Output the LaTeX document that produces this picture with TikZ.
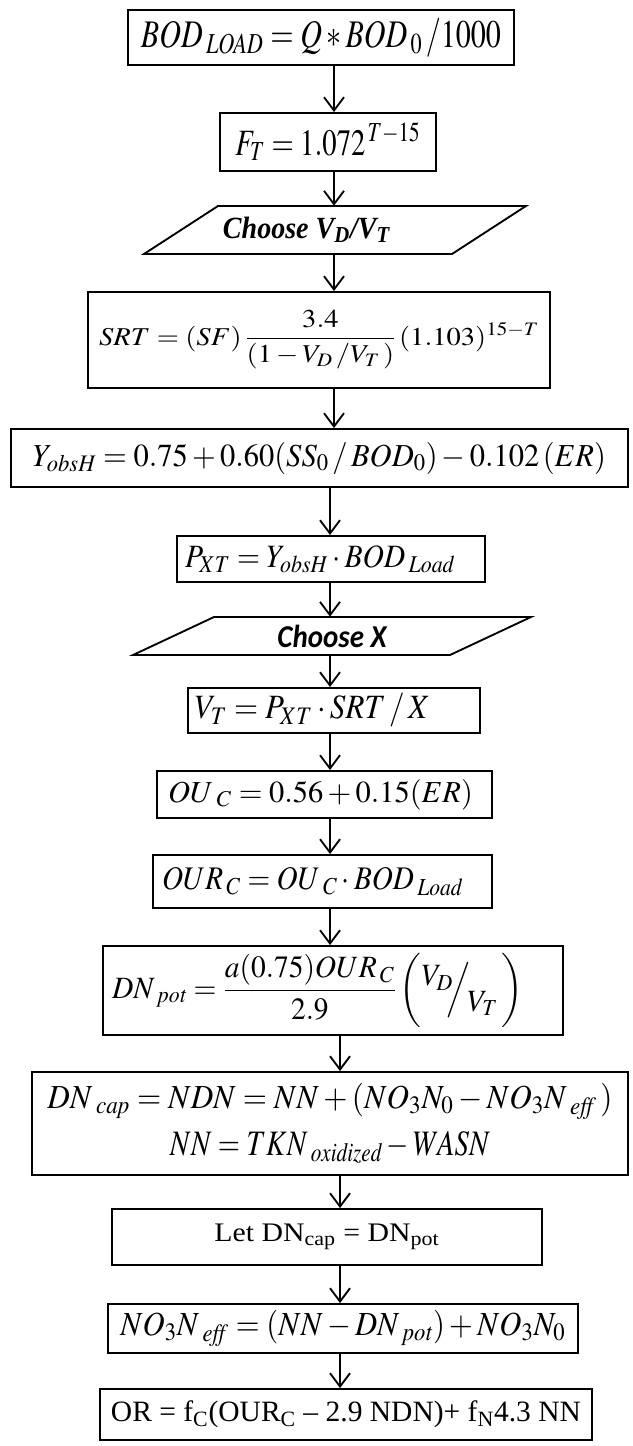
\documentclass[tikz,border=0pt]{standalone}
\usepackage{amsmath}
\usepackage{graphicx}
\usepackage{mathptmx}
\usepackage{fontspec}
\setmainfont{Liberation Serif}
\newfontfamily\calibrifont{Carlito}
\usetikzlibrary{arrows.meta, positioning, calc}

% one pixel of the drawing
\newlength{\pxlen}
\setlength{\pxlen}{0.75pt}
% set a formula to a given width (px) and stretch it upwards
\newcommand{\eqfit}[3]{\scalebox{1}[#2]{\resizebox{#1\pxlen}{!}{#3}}}

\tikzset{
  eqbox/.style 2 args={draw, line width=1.4pt, inner sep=0pt,
    minimum width=#1*0.75pt, minimum height=#2*0.75pt},
  inbox/.style={inner sep=0pt, minimum height=#1*0.75pt},
  leftbox/.style 2 args={align=left, text width=#1*0.75pt, inner xsep=#2*0.75pt},
  flow/.style={line width=1.4pt, -{Straight Barb[length=10pt, width=15pt, line width=1.4pt]}},
  para/.style={line width=1.4pt},
}

\begin{document}
\begin{tikzpicture}[x=0.75pt, y=-0.75pt, every node/.style={font=\fontsize{19}{23}\selectfont}]
  \useasboundingbox (0,0) rectangle (632,1446);

  % steps
  \node[eqbox={386}{55}] (bod) at (321,37.5)
    {\eqfit{360}{1.3}{$BOD\,{}_{\mathit{LOAD}} = Q * BOD\,{}_{0}\,/1000$}};
  \node[eqbox={216}{58}] (ft) at (328,142) {\eqfit{185}{1.3}{$F_T = 1.072^{\,T-15}$}};
  \node[inbox=48] (vd) at (306.5,230)
    {\eqfit{167}{1.1}{\rmfamily\bfseries\itshape Choose V\textsubscript{D}/V\textsubscript{T}}};
  \node[eqbox={462}{96}] (srt) at (319,340)
    {\eqfit{440}{0.9}{$SRT = (SF)\,\dfrac{3.4}{(1-V_D\,/V_T\,)}\,(1.103)^{15-T}$}};
  \node[eqbox={617}{58}] (yobs) at (319.5,458)
    {\eqfit{573}{1.05}{$Y_{\mathit{obsH}} = 0.75 + 0.60(SS_0\,/\,BOD_0) - 0.102\,(ER)$}};
  \node[eqbox={308}{46}, leftbox={292}{8}] (pxt) at (331,559)
    {\eqfit{270}{1.1}{$P_{XT} = Y_{\mathit{obsH}}\cdot BOD\,{}_{\mathit{Load}}$}};
  \node[inbox=38] (chx) at (332,636) {\eqfit{109}{1.1}{\calibrifont\bfseries\itshape Choose X}};
  \node[eqbox={292}{45}, leftbox={278}{7}] (vt) at (334,710.5)
    {\eqfit{235}{1.1}{$V_T = P_{XT}\cdot SRT\,/\,X$}};
  \node[eqbox={335}{47}, leftbox={313}{11}] (ouc) at (324.5,794.5)
    {\eqfit{305}{1.0}{$OU\,{}_{C} = 0.56 + 0.15(ER)$}};
  \node[eqbox={339}{53}, leftbox={321}{9}] (ourc) at (322.5,881.5)
    {\eqfit{301}{1.13}{$OUR\,{}_{C} = OU\,{}_{C}\cdot BOD\,{}_{\mathit{Load}}$}};
  \node[eqbox={460}{89}, leftbox={442}{9}] (dnpot) at (333,990.5)
    {\eqfit{411}{1.05}{$DN\,{}_{\mathit{pot}} = \dfrac{a(0.75)OUR\,{}_{C}}{2.9}\left(\vphantom{\dfrac{X}{X}}\raisebox{0.9ex}{$V_D$}\!\!\Big/\!\raisebox{-0.9ex}{$V_T$}\,\right)$}};
  \node[eqbox={596}{103}, align=center] (dncap) at (330,1123.5)
    {\eqfit{565}{1.08}{$DN\,{}_{\mathit{cap}} = NDN = NN + (NO_3N_0 - NO_3N\,{}_{\mathit{eff}}\,)$}\\[8pt]
     \eqfit{320}{1.25}{$NN = TKN\,{}_{\mathit{oxidized}} - WASN$}};
  \node[eqbox={430}{56}] (let) at (327,1237)
    {\eqfit{225}{0.9}{Let DN\textsubscript{cap} = DN\textsubscript{pot}}};
  \node[eqbox={470}{49}] (no3) at (343,1328.5)
    {\eqfit{445}{1.1}{$NO_3N\,{}_{\mathit{eff}} = (NN - DN\,{}_{\mathit{pot}}) + NO_3N_0$}};
  \node[eqbox={492}{51}] (or) at (346,1414.5)
    {\eqfit{470}{1.0}{OR = f\textsubscript{C}(OUR\textsubscript{C} -- 2.9 NDN)+ f\textsubscript{N}4.3 NN}};

  % parallelograms
  \draw[para] ($(vd)+(-162.5,24)$) -- ($(vd)+(145.5,24)$) -- ($(vd)+(219.5,-24)$)
    -- ($(vd)+(-88.5,-24)$) -- cycle;
  \draw[para] ($(chx)+(-199,19)$) -- ($(chx)+(118,19)$) -- ($(chx)+(199,-19)$)
    -- ($(chx)+(-118,-19)$) -- cycle;

  % arrows
  \coordinate (a) at (334,0);
  \coordinate (b) at (330,0);
  \coordinate (c) at (340,0);
  \draw[flow] (bod.south -| a) -- (ft.north -| a);
  \draw[flow] (ft.south -| a) -- (vd.north -| a);
  \draw[flow] (vd.south -| a) -- (srt.north -| a);
  \draw[flow] (srt.south -| a) -- (yobs.north -| a);
  \draw[flow] (yobs.south -| b) -- (pxt.north -| b);
  \draw[flow] (pxt.south -| b) -- (chx.north -| b);
  \draw[flow] (chx.south -| b) -- (vt.north -| b);
  \draw[flow] (vt.south -| b) -- (ouc.north -| b);
  \draw[flow] (ouc.south -| b) -- (ourc.north -| b);
  \draw[flow] (ourc.south -| b) -- (dnpot.north -| b);
  \draw[flow] (dnpot.south -| c) -- (dncap.north -| c);
  \draw[flow] (dncap.south -| c) -- (let.north -| c);
  \draw[flow] (let.south -| c) -- (no3.north -| c);
  \draw[flow] (no3.south -| c) -- (or.north -| c);
\end{tikzpicture}
\end{document}
